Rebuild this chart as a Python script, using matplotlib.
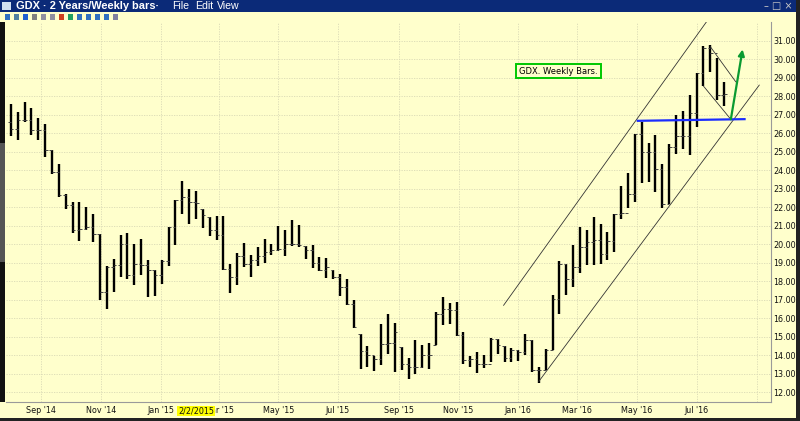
import matplotlib
matplotlib.use("Agg")
import matplotlib.pyplot as plt
import matplotlib.dates as mdates
from matplotlib.patches import Rectangle
from matplotlib.ticker import FormatStrFormatter
import pandas as pd

# weekly bars (week ending Friday)
dates = pd.date_range("2014-08-01", periods=105, freq="W-FRI")

highs = [27.57, 27.14, 27.68, 27.37, 26.80, 26.49, 25.08, 24.31, 22.74, 22.29,
         22.29, 22.02, 21.66, 20.57, 18.81, 19.22, 20.48, 20.63, 20.03, 20.30,
         19.13, 18.63, 19.13, 20.93, 22.41, 23.40, 23.01, 22.88, 21.93, 21.48,
         21.53, 21.53, 18.95, 19.53, 20.07, 19.44, 19.85, 20.30, 20.03, 20.97,
         20.79, 21.33, 21.03, 19.89, 19.98, 19.31, 19.28, 18.63, 18.41, 18.14,
         17.00, 15.13, 14.48, 13.94, 15.67, 16.25, 15.74, 14.44, 13.87, 14.80,
         14.53, 14.66, 16.34, 17.15, 16.82, 16.88, 15.26, 13.94, 14.17, 13.99,
         14.95, 14.89, 14.48, 14.41, 14.26, 15.13, 14.80, 13.36, 14.35, 17.24,
         19.10, 18.95, 19.94, 20.94, 20.79, 21.48, 21.12, 20.67, 21.62, 23.14,
         23.86, 25.95, 26.62, 25.45, 25.90, 24.31, 25.41, 26.98, 27.20, 28.06,
         29.23, 30.71, 30.77, 30.05, 28.78]
lows = [25.84, 25.62, 26.62, 25.93, 25.66, 24.69, 23.82, 22.56, 21.93, 20.63,
        20.16, 20.75, 20.12, 16.97, 16.51, 17.42, 18.23, 18.14, 17.78, 18.32,
        17.15, 17.20, 17.83, 18.82, 19.94, 21.66, 21.11, 21.39, 20.90, 20.43,
        20.21, 18.59, 17.36, 17.82, 18.77, 18.23, 18.83, 18.99, 19.40, 19.62,
        19.35, 19.89, 19.85, 19.22, 18.74, 18.56, 18.19, 18.14, 17.18, 16.70,
        15.49, 13.27, 13.36, 13.13, 13.45, 14.08, 13.09, 13.18, 12.73, 13.00,
        13.31, 13.27, 14.53, 15.62, 15.71, 15.02, 13.54, 13.36, 13.04, 13.33,
        13.63, 14.05, 13.63, 13.63, 13.69, 13.99, 13.09, 12.50, 13.18, 14.26,
        16.25, 17.24, 17.69, 18.45, 18.86, 18.90, 18.95, 19.13, 19.58, 21.35,
        21.97, 22.29, 23.32, 23.37, 22.83, 21.98, 22.16, 24.87, 25.12, 24.81,
        26.35, 28.55, 29.32, 27.79, 27.47]
opens = [26.60, 26.22, 26.71, 26.71, 26.16, 26.16, 25.08, 23.91, 22.65, 22.11,
         20.75, 20.84, 20.93, 20.54, 17.40, 18.77, 18.86, 20.03, 18.36, 18.95,
         18.86, 18.59, 18.32, 19.08, 20.93, 22.38, 22.56, 22.29, 21.93, 21.48,
         20.76, 20.49, 18.68, 18.23, 19.35, 18.92, 19.13, 19.35, 19.59, 19.71,
         19.76, 20.03, 19.99, 19.89, 19.71, 18.99, 18.63, 18.63, 18.23, 17.69,
         16.79, 15.13, 14.21, 13.99, 13.81, 14.59, 14.66, 14.44, 13.54, 13.36,
         13.36, 13.99, 14.53, 16.25, 16.52, 16.46, 15.07, 13.72, 13.81, 13.54,
         13.51, 14.89, 14.48, 13.87, 14.26, 14.17, 14.80, 13.18, 13.18, 14.26,
         17.06, 18.95, 18.14, 18.77, 19.85, 20.12, 20.25, 19.49, 20.18, 21.62,
         21.70, 22.74, 25.95, 24.99, 24.99, 24.04, 22.20, 25.23, 25.84, 25.84,
         27.11, 29.23, 30.60, 30.32, 28.06]
closes = [26.22, 26.71, 26.71, 26.16, 26.16, 25.08, 23.91, 22.65, 22.11, 20.75,
          20.84, 20.93, 20.54, 17.40, 18.77, 18.86, 20.03, 18.36, 18.95, 18.86,
          18.59, 18.32, 19.08, 20.93, 22.38, 22.56, 22.29, 22.23, 21.57, 20.76,
          20.49, 18.68, 18.23, 19.35, 18.92, 19.13, 19.35, 19.59, 19.71, 19.76,
          20.03, 19.99, 19.94, 19.71, 18.99, 18.63, 18.77, 18.23, 17.69, 16.79,
          15.52, 14.21, 13.99, 13.81, 14.59, 14.66, 15.26, 13.54, 13.36, 13.36,
          13.99, 13.99, 16.25, 16.52, 16.46, 15.07, 13.72, 13.81, 13.54, 13.51,
          14.89, 14.53, 13.87, 14.26, 14.17, 14.80, 13.18, 13.18, 14.26, 17.06,
          18.95, 18.14, 18.77, 19.85, 20.12, 20.25, 19.49, 20.18, 21.62, 21.70,
          22.74, 25.95, 24.99, 24.99, 24.04, 22.20, 25.23, 25.84, 25.84, 27.11,
          29.23, 30.60, 30.32, 28.06, 28.12]

# analyst drawings (date, price)
upper_channel = (["2015-12-17", "2016-07-11"], [16.70, 32.01])
lower_channel = (["2016-01-22", "2016-09-03"], [12.59, 28.60])
support_line = (["2016-05-02", "2016-08-19"], [26.67, 26.76])
flag_top = (["2016-07-15", "2016-08-10"], [30.68, 28.78])
flag_bottom = (["2016-07-08", "2016-08-05"], [28.55, 26.75])
target_arrow = (["2016-08-05", "2016-08-17"], [26.75, 30.53])

BG = "#ffffcc"
W, H = 800, 421

fig = plt.figure(figsize=(8, 4.21), dpi=100)
fig.patch.set_facecolor(BG)

def fx(px):
    return px / W

def fy(py):
    return 1 - py / H

ax = fig.add_axes([fx(6), fy(402), fx(771) - fx(6), fy(22) - fy(402)])
ax.set_facecolor(BG)

x = mdates.date2num(dates)
half = 2.6  # days, open/close tick length
ax.vlines(x, lows, highs, color="black", linewidth=1.7, zorder=3)
ax.hlines(opens, x - half, x, color="#444444", linewidth=0.7, zorder=3)
ax.hlines(closes, x, x + half, color="#444444", linewidth=0.7, zorder=3)

def dline(seg, **kw):
    d, p = seg
    ax.plot(mdates.date2num(pd.to_datetime(d)), p, **kw)

dline(upper_channel, color="#333333", linewidth=0.6, zorder=4)
dline(lower_channel, color="#333333", linewidth=0.6, zorder=4)
dline(flag_top, color="#333333", linewidth=0.6, zorder=4)
dline(flag_bottom, color="#333333", linewidth=0.6, zorder=4)
dline(support_line, color="#1a2cff", linewidth=1.6, zorder=5)
ad, ap = target_arrow
ad = mdates.date2num(pd.to_datetime(ad))
ax.annotate("", xy=(ad[1], ap[1]), xytext=(ad[0], ap[0]),
            arrowprops=dict(arrowstyle="-|>", color="#0a9a30", lw=1.6,
                            mutation_scale=9, shrinkA=0, shrinkB=0), zorder=6)

ax.set_xlim(mdates.date2num(pd.Timestamp("2014-07-27")),
            mdates.date2num(pd.Timestamp("2016-09-15")))
ax.set_ylim(11.475, 32.01)

def month_fmt(v, pos=None):
    d = mdates.num2date(v)
    if d.year == 2016 and d.month == 9:
        return ""
    return d.strftime("%b '%y")

ax.xaxis.set_major_locator(mdates.MonthLocator(bymonth=[1, 3, 5, 7, 9, 11]))
ax.xaxis.set_major_formatter(plt.FuncFormatter(month_fmt))
ax.yaxis.tick_right()
ax.set_yticks(range(12, 32))
ax.yaxis.set_major_formatter(FormatStrFormatter("%.2f"))
ax.tick_params(axis="both", length=0, labelsize=5.8, colors="#111111")
ax.tick_params(axis="x", pad=3)
ax.tick_params(axis="y", pad=1.5)
for lab in ax.get_yticklabels():
    lab.set_horizontalalignment("left")
ax.grid(True, linestyle=(0, (1.5, 1.5)), color="#d9d9b5", linewidth=0.6, zorder=0)
ax.set_axisbelow(True)
for s in ["top", "left"]:
    ax.spines[s].set_visible(False)
for s in ["right", "bottom"]:
    ax.spines[s].set_color("#9a9a9a")
    ax.spines[s].set_linewidth(0.8)

# crosshair date label on axis
ax.text(mdates.date2num(pd.Timestamp("2015-02-06")), -0.011, "2/2/2015",
        transform=ax.get_xaxis_transform(), ha="center", va="top",
        fontsize=5.8, color="#111111", clip_on=False, zorder=10,
        bbox=dict(boxstyle="square,pad=0.08", facecolor="#ffff00", edgecolor="none"))

# label box
ax.text(0.7225, 0.871, "GDX. Weekly Bars.", transform=ax.transAxes,
        ha="center", va="center", fontsize=6, color="black", zorder=7,
        bbox=dict(boxstyle="square,pad=0.35", facecolor=BG, edgecolor="#00c800", linewidth=1.4))

# window chrome
fig.patches.append(Rectangle((0, fy(12)), 1, 12 / H, transform=fig.transFigure,
                             facecolor="#0b2a78", edgecolor="none"))
fig.patches.append(Rectangle((fx(2), fy(10)), fx(9), 8 / H, transform=fig.transFigure,
                             facecolor="#d0e0f0", edgecolor="none"))
fig.text(fx(16), fy(6.3), "GDX \u00b7 2 Years/Weekly bars\u00b7", color="white",
         fontsize=7.9, fontweight="bold", va="center", family="Liberation Sans")
for lbl, px in [("File", 172), ("Edit", 195), ("View", 217)]:
    fig.text(fx(px), fy(6.3), lbl, color="white", fontsize=7.6, va="center",
             family="Liberation Sans")
fig.text(fx(764), fy(6.3), "\u2013 \u25a1 \u00d7", color="#c8c8c8", fontsize=7, va="center")

# toolbar icons
icon_cols = ["#3070c0", "#5080a0", "#2060d0", "#808080", "#9090a0", "#9090a0",
             "#d04020", "#20a060", "#3070c0", "#3070c0", "#3070c0", "#3070c0", "#8080a0"]
for i, c in enumerate(icon_cols):
    fig.patches.append(Rectangle((fx(5 + i * 9), fy(20)), fx(5), 6 / H,
                                 transform=fig.transFigure, facecolor=c, edgecolor="none"))

# left scroll bar and bottom/right frame
fig.patches.append(Rectangle((0, fy(402)), fx(5), 380 / H, transform=fig.transFigure,
                             facecolor="#555555", edgecolor="none"))
fig.patches.append(Rectangle((0, fy(143)), fx(5), 121 / H, transform=fig.transFigure,
                             facecolor="#111111", edgecolor="none"))
fig.patches.append(Rectangle((0, fy(402)), fx(5), 140 / H, transform=fig.transFigure,
                             facecolor="#111111", edgecolor="none"))
fig.patches.append(Rectangle((0, 0), 1, 3 / H, transform=fig.transFigure,
                             facecolor="#222222", edgecolor="none"))
fig.patches.append(Rectangle((fx(796), 0), fx(4), 1, transform=fig.transFigure,
                             facecolor="#222222", edgecolor="none"))

fig.savefig("out.png", dpi=100, facecolor=BG)
